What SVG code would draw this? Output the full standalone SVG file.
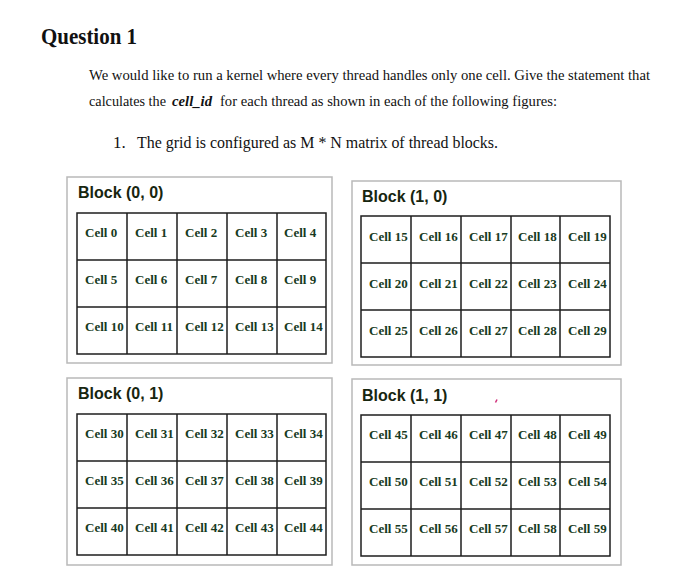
<svg xmlns="http://www.w3.org/2000/svg" width="689" height="571" viewBox="0 0 689 571">
<style>
.bg{fill:#ffffff}
.outer{fill:#ffffff;stroke:#b9b9b9;stroke-width:1.5}
.grid{fill:none;stroke:#1e1e1e;stroke-width:1.5}
.title{font-family:"Liberation Sans",Arial,sans-serif;font-weight:bold;font-size:16px;fill:#17260f}
.cell{font-family:"Liberation Serif","Times New Roman",serif;font-weight:bold;font-size:13px;fill:#173a22}
.body{font-family:"Liberation Serif","Times New Roman",serif;fill:#111111}
</style>
<rect class="bg" x="0" y="0" width="689" height="571"/>
<g id="header">
<text class="body" x="41" y="44" font-size="23" font-weight="bold" textLength="96" lengthAdjust="spacingAndGlyphs">Question 1</text>
<text class="body" x="89" y="80" font-size="14.5" textLength="561" lengthAdjust="spacingAndGlyphs">We would like to run a kernel where every thread handles only one cell. Give the statement that</text>
<text class="body" x="89" y="106" font-size="14.5" textLength="77" lengthAdjust="spacingAndGlyphs">calculates the</text>
<text class="body" x="172" y="106" font-size="14.5" font-weight="bold" font-style="italic" textLength="40" lengthAdjust="spacingAndGlyphs">cell_id</text>
<text class="body" x="220" y="106" font-size="14.5" textLength="337" lengthAdjust="spacingAndGlyphs">for each thread as shown in each of the following figures:</text>
<text class="body" x="113" y="148" font-size="17">1.</text>
<text class="body" x="137" y="148" font-size="17" textLength="361" lengthAdjust="spacingAndGlyphs">The grid is configured as M * N matrix of thread blocks.</text>
</g>
<g id="block-0-0">
<rect class="outer" x="67" y="177" width="265" height="186"/>
<text class="title" x="78" y="198">Block (0, 0)</text>
<path class="grid" d="M77 213H326V354H77Z M127 213V354 M177 213V354 M227 213V354 M277 213V354 M77 260H326 M77 307H326"/>
<text class="cell" x="85" y="237">Cell 0</text><text class="cell" x="135" y="237">Cell 1</text><text class="cell" x="185" y="237">Cell 2</text><text class="cell" x="235" y="237">Cell 3</text><text class="cell" x="284" y="237">Cell 4</text>
<text class="cell" x="85" y="284">Cell 5</text><text class="cell" x="135" y="284">Cell 6</text><text class="cell" x="185" y="284">Cell 7</text><text class="cell" x="235" y="284">Cell 8</text><text class="cell" x="284" y="284">Cell 9</text>
<text class="cell" x="85" y="331">Cell 10</text><text class="cell" x="135" y="331">Cell 11</text><text class="cell" x="185" y="331">Cell 12</text><text class="cell" x="235" y="331">Cell 13</text><text class="cell" x="284" y="331">Cell 14</text>
</g>
<g id="block-1-0">
<rect class="outer" x="352" y="181" width="269" height="184"/>
<text class="title" x="362" y="202">Block (1, 0)</text>
<path class="grid" d="M361 216H610V357H361Z M411 216V357 M461 216V357 M511 216V357 M560 216V357 M361 263H610 M361 310H610"/>
<text class="cell" x="369" y="241">Cell 15</text><text class="cell" x="419" y="241">Cell 16</text><text class="cell" x="469" y="241">Cell 17</text><text class="cell" x="518" y="241">Cell 18</text><text class="cell" x="568" y="241">Cell 19</text>
<text class="cell" x="369" y="288">Cell 20</text><text class="cell" x="419" y="288">Cell 21</text><text class="cell" x="469" y="288">Cell 22</text><text class="cell" x="518" y="288">Cell 23</text><text class="cell" x="568" y="288">Cell 24</text>
<text class="cell" x="369" y="335">Cell 25</text><text class="cell" x="419" y="335">Cell 26</text><text class="cell" x="469" y="335">Cell 27</text><text class="cell" x="518" y="335">Cell 28</text><text class="cell" x="568" y="335">Cell 29</text>
</g>
<g id="block-0-1">
<rect class="outer" x="67" y="378" width="265" height="187"/>
<text class="title" x="78" y="399">Block (0, 1)</text>
<path class="grid" d="M77 414H326V555H77Z M127 414V555 M177 414V555 M227 414V555 M277 414V555 M77 461H326 M77 508H326"/>
<text class="cell" x="85" y="438">Cell 30</text><text class="cell" x="135" y="438">Cell 31</text><text class="cell" x="185" y="438">Cell 32</text><text class="cell" x="235" y="438">Cell 33</text><text class="cell" x="284" y="438">Cell 34</text>
<text class="cell" x="85" y="485">Cell 35</text><text class="cell" x="135" y="485">Cell 36</text><text class="cell" x="185" y="485">Cell 37</text><text class="cell" x="235" y="485">Cell 38</text><text class="cell" x="284" y="485">Cell 39</text>
<text class="cell" x="85" y="532">Cell 40</text><text class="cell" x="135" y="532">Cell 41</text><text class="cell" x="185" y="532">Cell 42</text><text class="cell" x="235" y="532">Cell 43</text><text class="cell" x="284" y="532">Cell 44</text>
</g>
<g id="block-1-1">
<rect class="outer" x="352" y="379" width="269" height="186"/>
<text class="title" x="362" y="401">Block (1, 1)</text>
<path d="M495.5 402.5L497 399.5" stroke="#d0307a" stroke-width="1.6" fill="none"/>
<path class="grid" d="M361 415H610V556H361Z M411 415V556 M461 415V556 M511 415V556 M560 415V556 M361 462H610 M361 509H610"/>
<text class="cell" x="369" y="439">Cell 45</text><text class="cell" x="419" y="439">Cell 46</text><text class="cell" x="469" y="439">Cell 47</text><text class="cell" x="518" y="439">Cell 48</text><text class="cell" x="568" y="439">Cell 49</text>
<text class="cell" x="369" y="486">Cell 50</text><text class="cell" x="419" y="486">Cell 51</text><text class="cell" x="469" y="486">Cell 52</text><text class="cell" x="518" y="486">Cell 53</text><text class="cell" x="568" y="486">Cell 54</text>
<text class="cell" x="369" y="533">Cell 55</text><text class="cell" x="419" y="533">Cell 56</text><text class="cell" x="469" y="533">Cell 57</text><text class="cell" x="518" y="533">Cell 58</text><text class="cell" x="568" y="533">Cell 59</text>
</g>
</svg>
